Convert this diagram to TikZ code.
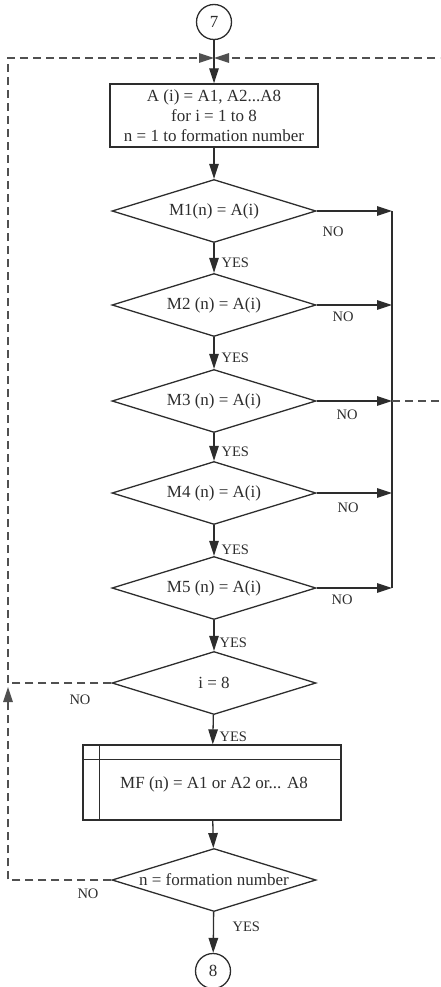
\documentclass[tikz,border=0pt]{standalone}
\usepackage{fontspec}
\setmainfont{Liberation Serif}
\usetikzlibrary{arrows.meta,shapes.geometric}
\definecolor{ink}{RGB}{45,45,45}
\definecolor{dashink}{RGB}{80,80,80}
\begin{document}
\begin{tikzpicture}[x=1pt,y=-1pt,
  line width=1.3pt, draw=ink, text=ink,
  >={Triangle[length=15pt,width=9.5pt]},
  txt/.style={font=\fontsize{17}{20}\selectfont},
  lab/.style={font=\fontsize{14.5}{16}\selectfont, inner sep=0pt},
  dec/.style={diamond, draw, minimum width=204pt, minimum height=63pt, inner sep=0pt, aspect=3.2, txt},
  procbox/.style={rectangle, draw, align=center, inner sep=1pt, txt},
  conn/.style={circle, draw, minimum size=35pt, inner sep=0pt, txt},
  dl/.style={dash pattern=on 8pt off 5pt, draw=dashink}
]
\useasboundingbox (0,0) rectangle (440,987);
\clip (0,0) rectangle (440,987);

% nodes
\node[conn] (c7) at (214,22) {7};
\coordinate (J) at (214,58);
\node[procbox, minimum width=208pt, minimum height=63pt] (A) at (214,115.5)
  {A (i) = A1, A2...A8\\for i = 1 to 8\\n = 1 to formation number};
\node[dec] (M1) at (214,211) {\makebox[0pt]{M1(n) = A(i)}};
\node[dec] (M2) at (214,305) {\makebox[0pt]{M2 (n) = A(i)}};
\node[dec] (M3) at (214,401) {\makebox[0pt]{M3 (n) = A(i)}};
\node[dec] (M4) at (214,493) {\makebox[0pt]{M4 (n) = A(i)}};
\node[dec] (M5) at (214,588) {\makebox[0pt]{M5 (n) = A(i)}};
\node[dec] (I8) at (214,683) {\makebox[0pt]{i = 8}};
\node[procbox, minimum width=258pt, minimum height=75pt] (MF) at (212,782.5) {};
\node[txt, inner sep=0pt] (MFt) at (214,784) {MF (n) = A1 or A2 or... A8};
\node[dec] (F) at (214,880) {\makebox[0pt]{n = formation number}};
\node[conn] (c8) at (213,971) {8};

% subroutine box inner lines
\draw ([xshift=17pt]MF.north west) -- ([xshift=17pt]MF.south west);
\draw ([yshift=-15pt]MF.north west) -- ([yshift=-15pt]MF.north east);

% coordinates
\coordinate (R1) at (392,211);
\coordinate (R2) at (392,305);
\coordinate (R3) at (392,401);
\coordinate (R4) at (392,493);
\coordinate (R5) at (392,588);
\coordinate (RX) at (450,401);
\coordinate (RT) at (450,58);
\coordinate (TL) at (8,58);
\coordinate (LJ) at (8,683);
\coordinate (LA) at (8,687);
\coordinate (BL) at (8,880);

% main flow
\draw[->] (c7) -- (A);
\draw[->] (A) -- (M1);
\draw[->] (M1) -- (M2);
\draw[->] (M2) -- (M3);
\draw[->] (M3) -- (M4);
\draw[->] (M4) -- (M5);
\draw[->] (M5) -- (I8);
\draw[->] (I8) -- (MF);
\draw[->] (MF) -- (F);
\draw[->] (F) -- (c8);

% NO branches to the right
\draw[->] (M1.east) -- (R1);
\draw[->] (M2.east) -- (R2);
\draw[->] (M3.east) -- (R3);
\draw[->] (M4.east) -- (R4);
\draw[->] (M5.east) -- (R5);
\draw (R1) -- (R5);
\draw[dl,->] (R3) -- (RX) -- (RT) -- (J);

% loops on the left
\draw[dl] (I8.west) -- (LJ);
\draw[dl,->] (F.west) -- (BL) -- (LA);
\draw[dl,->] (LJ) -- (TL) -- (J);

% labels
\node[lab, anchor=west] (y1) at (221,263) {YES};
\node[lab, anchor=west] (y2) at (221,358) {YES};
\node[lab, anchor=west] (y3) at (221,452) {YES};
\node[lab, anchor=west] (y4) at (221,550) {YES};
\node[lab, anchor=west] (y5) at (219,643) {YES};
\node[lab, anchor=west] (y6) at (219,737) {YES};
\node[lab, anchor=west] (y7) at (232,927) {YES};
\node[lab] (n1) at (333,232) {NO};
\node[lab] (n2) at (343,317) {NO};
\node[lab] (n3) at (347,415) {NO};
\node[lab] (n4) at (348,508) {NO};
\node[lab] (n5) at (342,600) {NO};
\node[lab] (n6) at (80,700) {NO};
\node[lab] (n7) at (88,894) {NO};
\end{tikzpicture}
\end{document}
